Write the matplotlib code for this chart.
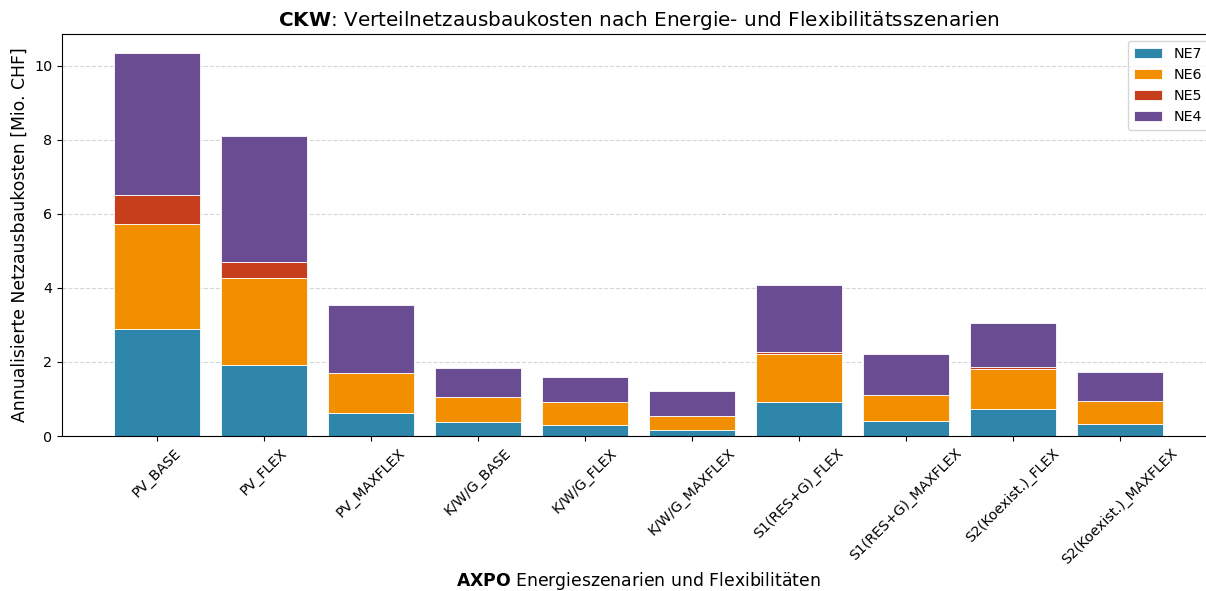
import matplotlib
matplotlib.use("Agg")
import matplotlib.pyplot as plt
import numpy as np

scenarios = ["PV_BASE", "PV_FLEX", "PV_MAXFLEX", "K/W/G_BASE", "K/W/G_FLEX",
             "K/W/G_MAXFLEX", "S1(RES+G)_FLEX", "S1(RES+G)_MAXFLEX",
             "S2(Koexist.)_FLEX", "S2(Koexist.)_MAXFLEX"]
ne7 = [2.88, 1.93, 0.61, 0.37, 0.31, 0.16, 0.91, 0.40, 0.73, 0.32]
ne6 = [2.84, 2.35, 1.08, 0.68, 0.61, 0.39, 1.30, 0.70, 1.09, 0.63]
ne5 = [0.80, 0.43, 0.01, 0.00, 0.00, 0.00, 0.07, 0.00, 0.04, 0.00]
ne4 = [3.82, 3.38, 1.83, 0.79, 0.67, 0.67, 1.80, 1.12, 1.19, 0.78]

series = [("NE7", ne7, "#2E86AB"), ("NE6", ne6, "#F18F01"),
          ("NE5", ne5, "#C73E1D"), ("NE4", ne4, "#6A4C93")]

W, H = 1206, 591
fig = plt.figure(figsize=(W / 100, H / 100), dpi=100)
ax = fig.add_axes([62 / W, 1 - 436 / H, (1215 - 62) / W, (436 - 34) / H])

x = np.arange(len(scenarios))
bottom = np.zeros(len(scenarios))
for name, vals, col in series:
    v = np.array(vals)
    ax.bar(x, v, 0.8, bottom=bottom, color=col, label=name,
           edgecolor="white", linewidth=0.6)
    bottom += v

ax.set_xticks(x)
ax.set_xticklabels(scenarios, rotation=45, fontsize=10.2)
ax.tick_params(axis="y", labelsize=10.3)
ax.set_ylabel("Annualisierte Netzausbaukosten [Mio. CHF]", fontsize=12.4)
ax.set_xlabel(r"$\bf{AXPO}$ Energieszenarien und Flexibilitäten", fontsize=12.4,
              labelpad=2.5)
ax.set_title(r"$\bf{CKW}$: Verteilnetzausbaukosten nach Energie- und Flexibilitätsszenarien",
             fontsize=14.4)
ax.yaxis.grid(True, linestyle="--", color="#cccccc", alpha=0.8)
ax.set_axisbelow(True)
ax.legend(loc="upper right", fontsize=10.3)

fig.savefig("out.png", dpi=100)
